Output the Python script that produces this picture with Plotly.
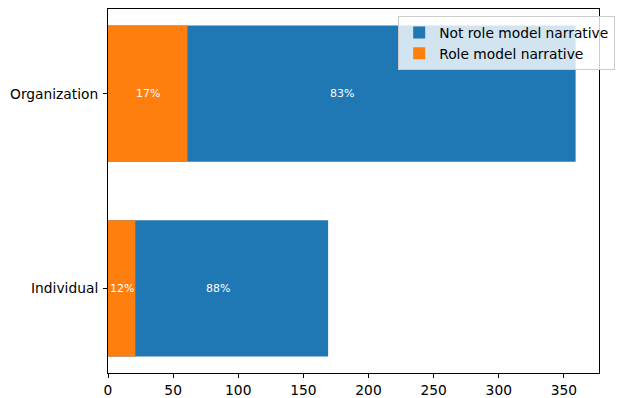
import plotly.graph_objects as go

categories = ["Individual", "Organization"]
role_model = [21, 61]
not_role_model = [148, 298]
x_ticks = [0, 50, 100, 150, 200, 250, 300, 350]

totals = [r + n for r, n in zip(role_model, not_role_model)]
pct_role = [round(100 * r / t) for r, t in zip(role_model, totals)]
pct_not = [round(100 * n / t) for n, t in zip(not_role_model, totals)]

BLUE = "#1f77b4"
ORANGE = "#ff7f0e"
FONT = "DejaVu Sans"

fig = go.Figure()
fig.add_trace(go.Bar(
    y=categories, x=totals, orientation="h", width=0.7,
    marker=dict(color=BLUE, line=dict(width=0)),
    name="Not role model narrative", hoverinfo="skip",
))
fig.add_trace(go.Bar(
    y=categories, x=role_model, orientation="h", width=0.7,
    marker=dict(color=ORANGE, line=dict(width=0)),
    name="Role model narrative", hoverinfo="skip",
))

annotations = []
for c, t, r, pr, pn in zip(categories, totals, role_model, pct_role, pct_not):
    annotations.append(dict(x=t / 2, y=c, xref="x", yref="y", text=f"{pn}%",
                            showarrow=False, font=dict(color="white", size=11, family=FONT)))
    annotations.append(dict(x=r / 2, y=c, xref="x", yref="y", text=f"{pr}%",
                            showarrow=False, font=dict(color="white", size=11, family=FONT)))

xmax = max(totals) * 1.05
fig.update_layout(
    width=622, height=398,
    margin=dict(l=108, r=23, t=9, b=25, autoexpand=False),
    paper_bgcolor="white", plot_bgcolor="white",
    barmode="overlay",
    font=dict(family=FONT, size=13.8, color="black"),
    annotations=annotations,
    legend=dict(
        x=0.591, y=0.981, xanchor="left", yanchor="top",
        bgcolor="rgba(255,255,255,0.8)", bordercolor="#cccccc", borderwidth=1,
        font=dict(size=13.8, family=FONT), traceorder="normal",
        itemwidth=30, tracegroupgap=0,
    ),
    xaxis=dict(
        range=[0, xmax], tickvals=x_ticks, ticks="outside", ticklen=4, tickwidth=1,
        tickcolor="black", showline=True, linecolor="black", linewidth=1, mirror=True,
        showgrid=False, zeroline=False, tickfont=dict(size=13.8), automargin=False,
    ),
    yaxis=dict(
        range=[-0.435, 1.435], ticks="outside", ticklen=4, tickwidth=1,
        tickcolor="black", showline=True, linecolor="black", linewidth=1, mirror=True,
        showgrid=False, zeroline=False, tickfont=dict(size=13.8), ticklabelstandoff=2,
        automargin=False,
    ),
)

fig.write_html("out.html")
